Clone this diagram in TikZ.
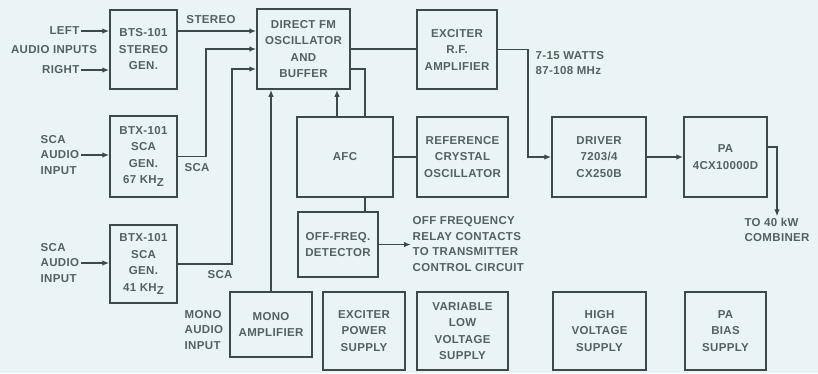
\documentclass[tikz,border=0pt]{standalone}
\usepackage{fontspec}
\setmainfont{Liberation Sans}[LetterSpace=3]
\usepackage{xcolor}
\usetikzlibrary{arrows.meta, calc}

\definecolor{paper}{RGB}{234,244,246}
\definecolor{ink}{RGB}{62,74,73}
\definecolor{txt}{RGB}{85,97,96}

\begin{document}
\begin{tikzpicture}[x=1pt, y=-1pt,
  blk/.style={draw=ink, line width=1.5pt, text=txt, align=center, inner sep=0pt,
              font=\bfseries\fontsize{11.5}{16.5}\selectfont},
  lbl/.style={text=txt, inner sep=1.5pt, font=\bfseries\fontsize{11.5}{15.5}\selectfont},
  wire/.style={draw=ink, line width=1.5pt},
  arr/.style={wire, -{Latex[length=7pt, width=5.5pt]}}]
  % fundo
  \fill[paper] (0,0) rectangle (818,373);
  % blocos
  \node[blk, minimum width=67pt, minimum height=79pt] (stereo) at (143.5,49.5) {BTS-101\\STEREO\\GEN.};
  \node[blk, minimum width=93pt, minimum height=80pt] (osc) at (303.5,49) {DIRECT FM\\OSCILLATOR\\AND\\BUFFER};
  \node[blk, minimum width=80pt, minimum height=79pt] (exciter) at (457,49.5) {EXCITER\\R.F.\\AMPLIFIER};
  \node[blk, minimum width=67pt, minimum height=81pt] (sca67) at (143.5,156.5) {BTX-101\\SCA\\GEN.\\67 KH\raisebox{-3pt}{Z}};
  \node[blk, minimum width=67pt, minimum height=78pt] (sca41) at (143.5,264) {BTX-101\\SCA\\GEN.\\41 KH\raisebox{-3pt}{Z}};
  \node[blk, minimum width=96pt, minimum height=80pt] (afc) at (345,157) {AFC};
  \node[blk, minimum width=91pt, minimum height=80pt] (ref) at (462.5,157) {REFERENCE\\CRYSTAL\\OSCILLATOR};
  \node[blk, minimum width=94pt, minimum height=80pt] (driver) at (599,157) {DRIVER\\7203/4\\CX250B};
  \node[blk, minimum width=83pt, minimum height=80pt] (pa) at (725.5,157) {PA\\4CX10000D};
  \node[blk, minimum width=80pt, minimum height=65pt] (offfreq) at (338,244.5) {OFF-FREQ.\\DETECTOR};
  \node[blk, minimum width=82pt, minimum height=65pt] (mono) at (271,324.5) {MONO\\AMPLIFIER};
  \node[blk, minimum width=82pt, minimum height=78pt] (excps) at (364,331) {EXCITER\\POWER\\SUPPLY};
  \node[blk, minimum width=91pt, minimum height=78pt] (varlv) at (462.5,331) {VARIABLE\\LOW\\VOLTAGE\\SUPPLY};
  \node[blk, minimum width=93pt, minimum height=78pt] (hv) at (599.5,331) {HIGH\\VOLTAGE\\SUPPLY};
  \node[blk, minimum width=81pt, minimum height=78pt] (bias) at (725.5,331) {PA\\BIAS\\SUPPLY};
  % rotulos
  \node[lbl, anchor=east] (left) at (81,31) {LEFT};
  \node[lbl] (audioin) at (54,50) {AUDIO INPUTS};
  \node[lbl, anchor=east] (right) at (81,70) {RIGHT};
  \node[lbl] (stlbl) at (211,20) {STEREO};
  \node[lbl, anchor=west, align=left] (sca1in) at (39,155) {SCA\\AUDIO\\INPUT};
  \node[lbl, anchor=west, align=left] (sca2in) at (39,263) {SCA\\AUDIO\\INPUT};
  \node[lbl] (sca1lbl) at (197,168) {SCA};
  \node[lbl] (sca2lbl) at (220,275) {SCA};
  \node[lbl, anchor=west, align=left] (monoin) at (183,330) {MONO\\AUDIO\\INPUT};
  \node[lbl, anchor=west, align=left] (relay) at (411,244) {OFF FREQUENCY\\RELAY CONTACTS\\TO TRANSMITTER\\CONTROL CIRCUIT};
  \node[lbl, anchor=west, align=left] (watts) at (534,63) {7-15 WATTS\\87-108 MHz};
  \node[lbl, align=left] (comb) at (777,230) {TO 40 kW\\COMBINER};
  % pontos auxiliares
  \coordinate (oscin1) at ($(osc.west)+(0,-18)$);
  \coordinate (oscin3) at ($(osc.west)+(0,20)$);
  \coordinate (oscout) at ($(osc.east)+(0,20)$);
  \coordinate (afcup) at ($(afc.north)+(-8,0)$);
  \coordinate (afcin) at ($(afc.north)+(20,0)$);
  \coordinate (afcdn) at ($(afc.south)+(20,0)$);
  \coordinate (paout) at ($(pa.east)+(0,-10)$);
  % ligacoes
  \draw[arr] (left) -- (left -| stereo.west);
  \draw[arr] (right) -- (right -| stereo.west);
  \draw[arr] (sca1in.east) -- (sca1in.east -| sca67.west);
  \draw[arr] (sca2in.east) -- (sca2in.east -| sca41.west);
  \draw[arr] (stereo.east |- oscin1) -- (oscin1);
  \draw[arr] (sca67.east) -- ++(28,0) |- (osc.west);
  \draw[arr] (sca41.east) -- ++(54,0) |- (oscin3);
  \draw[arr] (mono.north) -- (mono.north |- osc.south);
  \draw[arr] (afcup) -- (afcup |- osc.south);
  \draw[wire] (oscout) -| (afcin);
  \draw[wire] (osc.east) -- (osc.east -| exciter.west);
  \draw[wire] (afc.east) -- (ref.west);
  \draw[wire] (afcdn) -- (afcdn |- offfreq.north);
  \draw[arr] (offfreq.east) -- (offfreq.east -| relay.west);
  \draw[arr] (exciter.east) -- ++(30,0) |- (driver.west);
  \draw[arr] (driver.east) -- (pa.west);
  \draw[arr] (paout) -| (comb.north);
\end{tikzpicture}
\end{document}
